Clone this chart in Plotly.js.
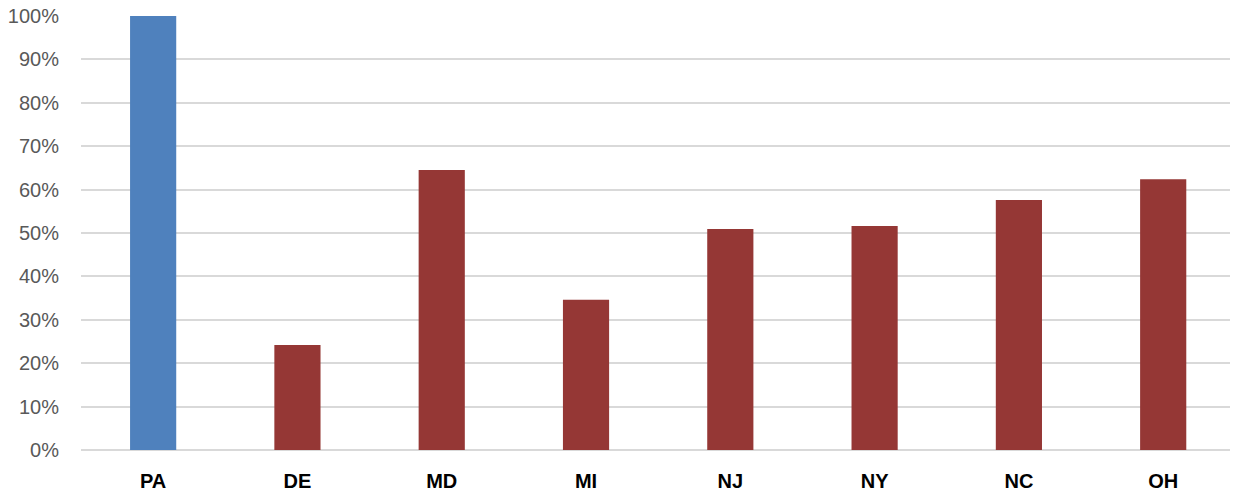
<!DOCTYPE html>
<html>
<head>
<meta charset="utf-8">
<script src="https://cdn.plot.ly/plotly-3.0.1.min.js"></script>
<style>html,body{margin:0;padding:0;background:#fff;}#chart{width:1233px;height:496px;}</style>
</head>
<body>
<div id="chart"></div>
<script>
const categories = ["PA", "DE", "MD", "MI", "NJ", "NY", "NC", "OH"];
const values = [1.00, 0.242, 0.645, 0.346, 0.509, 0.516, 0.576, 0.624];
const barColors = ["#4f81bd", "#953735", "#953735", "#953735", "#953735", "#953735", "#953735", "#953735"];
const yTickVals = [0, 0.1, 0.2, 0.3, 0.4, 0.5, 0.6, 0.7, 0.8, 0.9, 1.0];

Plotly.newPlot("chart", [{
  type: "bar",
  x: categories,
  y: values,
  marker: {color: barColors},
  width: 0.32,
  hoverinfo: "x+y"
}], {
  width: 1233,
  height: 496,
  margin: {l: 81, r: 3, t: 16, b: 46, pad: 0},
  paper_bgcolor: "#ffffff",
  plot_bgcolor: "#ffffff",
  showlegend: false,
  xaxis: {
    type: "category",
    range: [-0.5, 7.463],
    showgrid: false,
    showline: false,
    ticks: "",
    tickfont: {family: "Liberation Sans, Arial, sans-serif", size: 20, color: "#000000", weight: "bold"},
    ticklabelstandoff: 17
  },
  yaxis: {
    range: [0, 1.0],
    tickvals: yTickVals,
    tickformat: ".0%",
    showgrid: true,
    gridcolor: "#d9d9d9",
    gridwidth: 1.5,
    zeroline: true,
    zerolinecolor: "#d9d9d9",
    zerolinewidth: 1.5,
    showline: false,
    ticks: "",
    tickfont: {family: "Liberation Sans, Arial, sans-serif", size: 20, color: "#595959"},
    ticklabelstandoff: 21
  }
}, {displayModeBar: false, staticPlot: false});
</script>
</body>
</html>
